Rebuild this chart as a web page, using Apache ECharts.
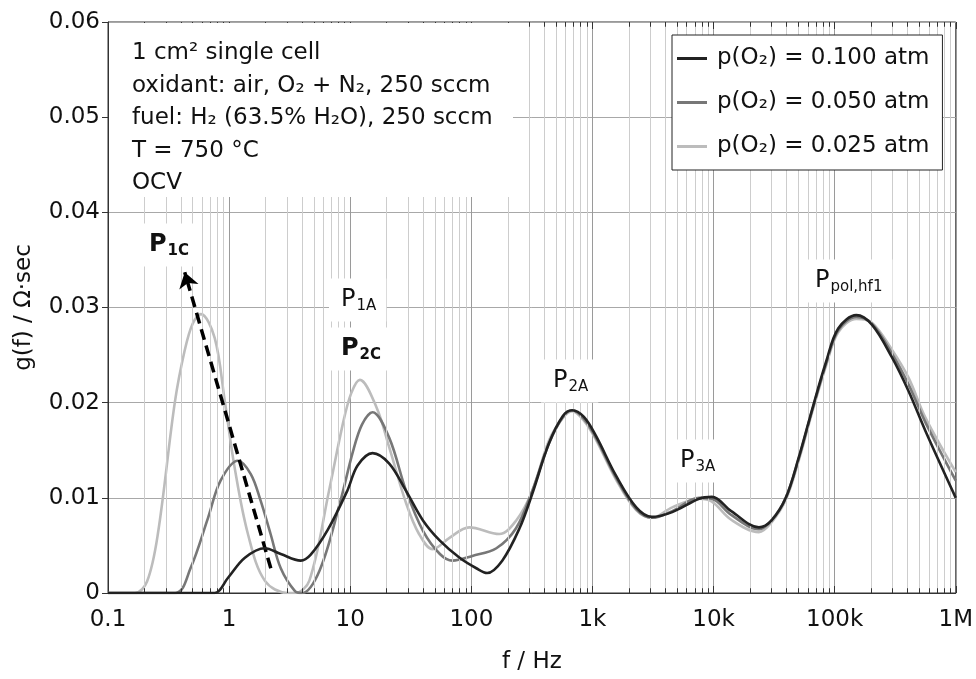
<!DOCTYPE html>
<html>
<head>
<meta charset="utf-8">
<script src="https://cdn.jsdelivr.net/npm/echarts@6/dist/echarts.min.js"></script>
<style>
  html, body { margin: 0; padding: 0; background: #fff; }
  #chart { width: 976px; height: 679px; }
</style>
</head>
<body>
<div id="chart"></div>
<script>
// values
const freqDark = [0.1, 0.5, 0.76, 0.98, 1.35, 1.97, 2.67, 3.9, 4.7, 6.5, 9.5, 11.5, 15.3, 21, 29, 40, 55, 80, 110, 135, 180, 250, 318, 437, 570, 680, 850, 1070, 1570, 2300, 3100, 4560, 7600, 9700, 14000, 23700, 30000, 39500, 50700, 64900, 85000, 107000, 151000, 203000, 296000, 408000, 563000, 1000000];
const gDark = [0, 0, 0, 0.0016, 0.0037, 0.0047, 0.0041, 0.0034, 0.0040, 0.0066, 0.0108, 0.0134, 0.0147, 0.0136, 0.0107, 0.0076, 0.0055, 0.0037, 0.0026, 0.0021, 0.0034, 0.0068, 0.0104, 0.0157, 0.0186, 0.0192, 0.0185, 0.0165, 0.0123, 0.0090, 0.0080, 0.0085, 0.0099, 0.0101, 0.0086, 0.0069, 0.0076, 0.0100, 0.0143, 0.0192, 0.0243, 0.0278, 0.0292, 0.0282, 0.0248, 0.0212, 0.0170, 0.0100];

const freqMid = [0.1, 0.36, 0.48, 0.67, 0.85, 1.18, 1.51, 1.82, 2.2, 2.67, 3.5, 4.0, 5.6, 8.2, 10.5, 12.5, 15.3, 21, 29, 40, 55, 70, 102, 161, 234, 318, 437, 570, 680, 850, 1070, 1570, 2300, 3100, 4560, 7600, 9700, 14000, 23700, 30000, 39500, 50700, 64900, 85000, 107000, 151000, 203000, 296000, 408000, 563000, 1000000];
const gMid = [0, 0, 0.0026, 0.0079, 0.0118, 0.0139, 0.0125, 0.0097, 0.0062, 0.0026, 0.0002, 0, 0.0024, 0.0094, 0.0148, 0.0177, 0.0190, 0.0163, 0.0107, 0.0065, 0.0041, 0.0034, 0.0039, 0.0047, 0.0068, 0.0107, 0.0157, 0.0185, 0.0192, 0.0183, 0.0163, 0.0121, 0.0088, 0.0079, 0.0086, 0.0100, 0.0099, 0.0082, 0.0067, 0.0076, 0.0100, 0.0142, 0.0191, 0.0241, 0.0276, 0.0290, 0.0283, 0.0252, 0.0219, 0.0179, 0.0118];

const freqLight = [0.1, 0.167, 0.21, 0.258, 0.356, 0.43, 0.5, 0.585, 0.76, 0.92, 1.11, 1.43, 1.97, 3.05, 3.5, 4.6, 6.7, 8.7, 10.2, 12, 16.5, 21, 29, 37, 48, 66, 96, 170, 234, 318, 437, 570, 680, 850, 1070, 1570, 2300, 3100, 4560, 7600, 9700, 14000, 23700, 30000, 39500, 50700, 64900, 85000, 107000, 151000, 203000, 296000, 408000, 563000, 1000000];
const gLight = [0, 0, 0.0012, 0.0062, 0.0200, 0.0255, 0.0283, 0.0293, 0.0268, 0.0202, 0.0132, 0.0062, 0.0013, 0, 0, 0.0013, 0.0108, 0.0178, 0.0210, 0.0224, 0.0195, 0.0153, 0.0094, 0.0062, 0.0046, 0.0058, 0.0069, 0.0062, 0.0076, 0.0107, 0.0160, 0.0184, 0.0191, 0.0181, 0.0161, 0.0119, 0.0087, 0.0079, 0.0090, 0.0099, 0.0096, 0.0077, 0.0064, 0.0074, 0.0098, 0.0140, 0.0189, 0.0239, 0.0274, 0.0288, 0.0284, 0.0256, 0.0226, 0.0184, 0.0127];

const seriesNames = ['p(O₂) = 0.100 atm', 'p(O₂) = 0.050 atm', 'p(O₂) = 0.025 atm'];
const seriesColors = ['#222222', '#777777', '#bcbcbc'];
const xTickLabels = ['0.1', '1', '10', '100', '1k', '10k', '100k', '1M'];

// dashed arrow along the P1C peak shift
const arrowStart = [2.21, 0.0026];
const arrowEnd = [0.43, 0.0337];

const infoLines = [
    '1 cm² single cell',
    'oxidant: air, O₂ + N₂, 250 sccm',
    'fuel: H₂ (63.5% H₂O), 250 sccm',
    'T = 750 °C',
    'OCV'
];

const FONT = '"DejaVu Sans", "Liberation Sans", sans-serif';

function pairs(f, g) {
    return f.map(function(v, i) { return [v, g[i]]; });
}

// minor decade lines 2..9
const minorFreqs = [];
for (let e = -1; e <= 5; e++) {
    for (let m = 2; m <= 9; m++) {
        minorFreqs.push(m * Math.pow(10, e));
    }
}

function peakLabel(x, y, main, sub, bold) {
    return {
        type: 'text',
        z: 100,
        style: {
            text: '{p|' + main + '}{s|' + sub + '}',
            x: x,
            y: y,
            align: 'left',
            verticalAlign: 'middle',
            backgroundColor: '#fff',
            padding: [8, 10, 8, 12],
            rich: {
                p: { fontSize: 24, fontFamily: FONT, fontWeight: bold ? 'bold' : 'normal', fill: '#111' },
                s: { fontSize: 15, fontFamily: FONT, fontWeight: bold ? 'bold' : 'normal', fill: '#111', padding: [12, 0, 0, 1] }
            }
        }
    };
}

const chart = echarts.init(document.getElementById('chart'));

const option = {
    animation: false,
    backgroundColor: '#fff',
    grid: {
        left: 108,
        right: 19,
        top: 22,
        bottom: 86,
        show: true,
        borderColor: '#333',
        borderWidth: 1
    },
    legend: {
        data: seriesNames,
        orient: 'vertical',
        left: 672,
        top: 35,
        z: 50,
        backgroundColor: '#fff',
        borderColor: '#222',
        borderWidth: 1,
        borderRadius: 0,
        padding: [12, 13, 12, 5],
        itemGap: 21,
        itemWidth: 30,
        itemHeight: 3,
        icon: 'rect',
        itemStyle: { borderWidth: 0 },
        textStyle: { fontSize: 23, fontFamily: FONT, color: '#111', padding: [0, 0, 0, 5] }
    },
    xAxis: [{
        type: 'log',
        logBase: 10,
        min: 0.1,
        max: 1000000,
        interval: 1,
        name: 'f / Hz',
        nameLocation: 'middle',
        nameGap: 58,
        nameTextStyle: { fontSize: 23, fontFamily: FONT, color: '#111' },
        axisLine: { lineStyle: { color: '#333' } },
        axisTick: { inside: true, length: 7, lineStyle: { color: '#333' } },
        axisLabel: {
            fontSize: 23,
            fontFamily: FONT,
            color: '#111',
            margin: 16,
            showMinLabel: true,
            showMaxLabel: true,
            formatter: function(v) {
                return xTickLabels[Math.round(Math.log10(v)) + 1];
            }
        },
        splitLine: { show: true, lineStyle: { color: '#9a9a9a', width: 1 } }
    }, {
        type: 'log',
        logBase: 10,
        min: 0.1,
        max: 1000000,
        interval: 1,
        position: 'top',
        axisLine: { show: false },
        axisTick: { inside: true, length: 7, lineStyle: { color: '#333' } },
        axisLabel: { show: false },
        splitLine: { show: false }
    }],
    yAxis: {
        type: 'value',
        min: 0,
        max: 0.06,
        interval: 0.01,
        name: 'g(f) / Ω·sec',
        nameLocation: 'middle',
        nameGap: 72,
        nameTextStyle: { fontSize: 23, fontFamily: FONT, color: '#111' },
        axisLine: { show: true, lineStyle: { color: '#333' } },
        axisTick: { show: true, length: 6, lineStyle: { color: '#333' } },
        axisLabel: {
            fontSize: 23,
            fontFamily: FONT,
            color: '#111',
            margin: 8,
            formatter: function(v) {
                return v === 0 ? '0' : v.toFixed(2);
            }
        },
        splitLine: { show: true, lineStyle: { color: '#a8a8a8', width: 1 } }
    },
    series: [
        {
            name: 'minor-grid',
            type: 'line',
            data: [],
            z: 1,
            silent: true,
            markLine: {
                silent: true,
                symbol: 'none',
                label: { show: false },
                lineStyle: { color: '#cdcdcd', width: 1, type: 'solid' },
                data: minorFreqs.map(function(f) { return { xAxis: f }; })
                    .concat(minorFreqs.map(function(f) {
                        return [{ coord: [f, 0], lineStyle: { color: '#333' } }, { coord: [f, 0.0005] }];
                    }))
                    .concat(minorFreqs.map(function(f) {
                        return [{ coord: [f, 0.06], lineStyle: { color: '#333' } }, { coord: [f, 0.0595] }];
                    }))
            }
        },
        {
            name: seriesNames[2],
            type: 'line',
            data: pairs(freqLight, gLight),
            smooth: 0.35,
            showSymbol: false,
            z: 3,
            lineStyle: { color: seriesColors[2], width: 2.6 },
            itemStyle: { color: seriesColors[2] }
        },
        {
            name: seriesNames[1],
            type: 'line',
            data: pairs(freqMid, gMid),
            smooth: 0.35,
            showSymbol: false,
            z: 4,
            lineStyle: { color: seriesColors[1], width: 2.6 },
            itemStyle: { color: seriesColors[1] }
        },
        {
            name: seriesNames[0],
            type: 'line',
            data: pairs(freqDark, gDark),
            smooth: 0.35,
            showSymbol: false,
            z: 5,
            lineStyle: { color: seriesColors[0], width: 2.6 },
            itemStyle: { color: seriesColors[0] }
        },
        {
            name: 'arrow',
            type: 'line',
            data: [],
            z: 6,
            silent: true,
            markLine: {
                silent: true,
                symbol: ['none', 'arrow'],
                symbolSize: 15,
                label: { show: false },
                lineStyle: { color: '#000', width: 3.5, type: [11, 6] },
                data: [[{ coord: arrowStart }, { coord: arrowEnd }]]
            }
        }
    ],
    graphic: [
        {
            type: 'rect',
            z: 99,
            shape: { x: 109, y: 23, width: 404, height: 174 },
            style: { fill: '#fff' }
        },
        {
            type: 'text',
            z: 100,
            style: {
                text: infoLines.join('\n'),
                x: 132,
                y: 37,
                font: '23px ' + FONT,
                lineHeight: 32.5,
                fill: '#111'
            }
        },
        peakLabel(137, 245, 'P', '1C', true),
        peakLabel(329, 300, 'P', '1A', false),
        peakLabel(329, 349, 'P', '2C', true),
        peakLabel(541, 381, 'P', '2A', false),
        peakLabel(668, 461, 'P', '3A', false),
        peakLabel(803, 281, 'P', 'pol,hf1', false)
    ]
};
chart.setOption(option);
</script>
</body>
</html>
